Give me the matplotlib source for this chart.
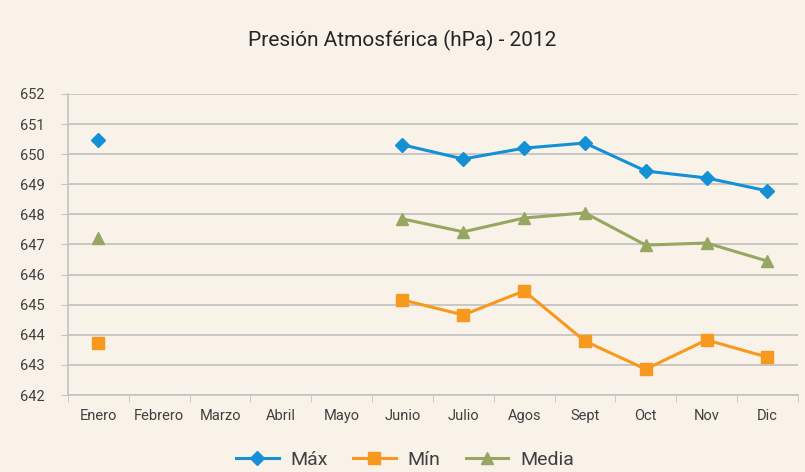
import numpy as np
import matplotlib
matplotlib.use("Agg")
import matplotlib.pyplot as plt

meses = ["Enero", "Febrero", "Marzo", "Abril", "Mayo", "Junio", "Julio",
         "Agos", "Sept", "Oct", "Nov", "Dic"]
nan = np.nan
maxima = [650.47, nan, nan, nan, nan, 650.31, 649.84, 650.20, 650.37, 649.44, 649.21, 648.78]
minima = [643.73, nan, nan, nan, nan, 645.16, 644.66, 645.46, 643.79, 642.86, 643.83, 643.26]
media = [647.20, nan, nan, nan, nan, 647.85, 647.42, 647.88, 648.05, 646.98, 647.05, 646.45]

bg = "#f8f2e9"
grey = "#c4c4c4"
txt = "#404040"
plt.rcParams["font.family"] = ["Roboto", "DejaVu Sans"]

fig = plt.figure(figsize=(8.05, 4.72), dpi=100, facecolor=bg)
ax = fig.add_axes([0.0845, 0.163, 0.9065, 0.638])
ax.set_facecolor(bg)

x = np.arange(len(meses))
ax.plot(x, maxima, color="#1390d6", lw=2.2, marker="D", ms=7, label="Máx")
ax.plot(x, minima, color="#f7981f", lw=2.2, marker="s", ms=9, label="Mín")
ax.plot(x, media, color="#97a661", lw=2.2, marker="^", ms=9, label="Media")

ax.set_xlim(-0.5, len(meses) - 0.5)
ax.set_ylim(642, 652)
ax.set_yticks(range(642, 653))
ax.set_xticks(x)
ax.set_xticklabels(meses, fontsize=10.5, color=txt)
ax.set_xticks(np.arange(-0.5, len(meses), 1), minor=True)
ax.tick_params(axis="x", which="major", length=0, pad=10)
ax.tick_params(axis="x", which="minor", length=5, color=grey, direction="out")
ax.tick_params(axis="y", length=5, color=grey, labelsize=10.5, labelcolor=txt, pad=12)
ax.grid(axis="y", color=grey, lw=1.3)
ax.set_axisbelow(True)
for s in ["top", "right"]:
    ax.spines[s].set_visible(False)
for s in ["left", "bottom"]:
    ax.spines[s].set_color(grey)
    ax.spines[s].set_linewidth(1.2)

fig.text(0.5, 0.915, "Presión Atmosférica (hPa) - 2012", ha="center", va="center",
         fontsize=15, color="#262626")
fig.legend(loc="center", bbox_to_anchor=(0.503, 0.026), ncol=3, frameon=False,
           fontsize=14, labelcolor=txt, handlelength=2.2, columnspacing=1.3,
           borderpad=0, handletextpad=0.6)

fig.savefig("out.png", dpi=100, facecolor=bg)
